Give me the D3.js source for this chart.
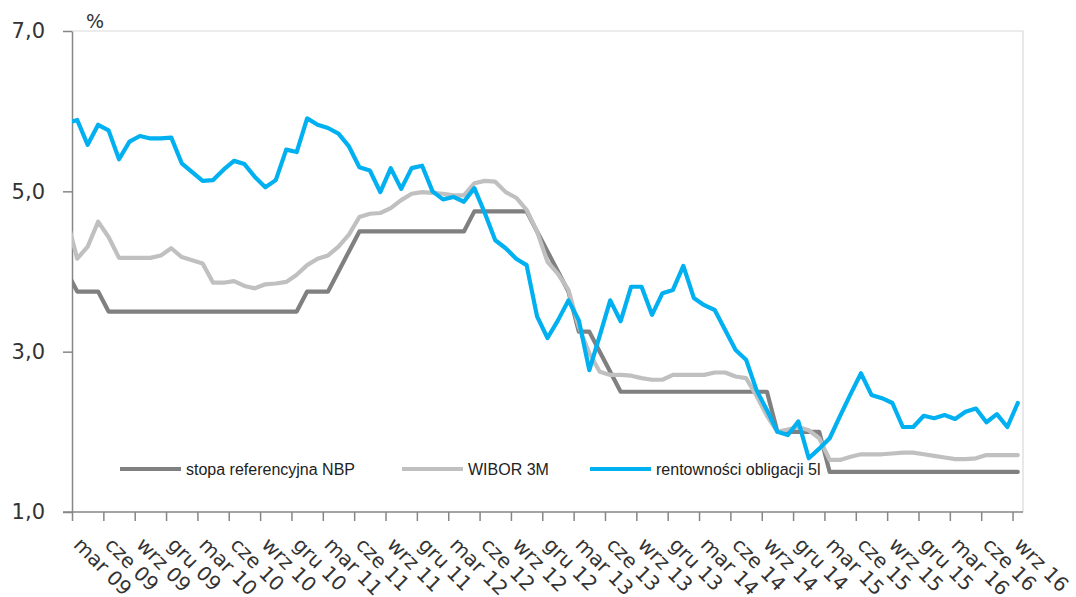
<!DOCTYPE html>
<html><head><meta charset="utf-8">
<script src="https://cdn.jsdelivr.net/npm/d3@7"></script>
<style>body{margin:0;background:#fff} svg{display:block}</style>
</head><body><svg id="c" width="1076" height="597"></svg>
<script>
const months = [
 "lut 09","mar 09","kwi 09","maj 09","cze 09","lip 09","sie 09","wrz 09","paź 09","lis 09","gru 09",
 "sty 10","lut 10","mar 10","kwi 10","maj 10","cze 10","lip 10","sie 10","wrz 10","paź 10","lis 10","gru 10",
 "sty 11","lut 11","mar 11","kwi 11","maj 11","cze 11","lip 11","sie 11","wrz 11","paź 11","lis 11","gru 11",
 "sty 12","lut 12","mar 12","kwi 12","maj 12","cze 12","lip 12","sie 12","wrz 12","paź 12","lis 12","gru 12",
 "sty 13","lut 13","mar 13","kwi 13","maj 13","cze 13","lip 13","sie 13","wrz 13","paź 13","lis 13","gru 13",
 "sty 14","lut 14","mar 14","kwi 14","maj 14","cze 14","lip 14","sie 14","wrz 14","paź 14","lis 14","gru 14",
 "sty 15","lut 15","mar 15","kwi 15","maj 15","cze 15","lip 15","sie 15","wrz 15","paź 15","lis 15","gru 15",
 "sty 16","lut 16","mar 16","kwi 16","maj 16","cze 16","lip 16","sie 16","wrz 16"];

const tickLabels = ["mar 09","cze 09","wrz 09","gru 09","mar 10","cze 10","wrz 10","gru 10",
 "mar 11","cze 11","wrz 11","gru 11","mar 12","cze 12","wrz 12","gru 12",
 "mar 13","cze 13","wrz 13","gru 13","mar 14","cze 14","wrz 14","gru 14",
 "mar 15","cze 15","wrz 15","gru 15","mar 16","cze 16","wrz 16"];

const nbp = [
 4.0, 3.75,3.75,3.75, 3.5,3.5,3.5,3.5,3.5,3.5,3.5,
 3.5,3.5,3.5,3.5,3.5,3.5,3.5,3.5,3.5,3.5,3.5,3.5,
 3.75,3.75,3.75,4.0,4.25,4.5,4.5,4.5,4.5,4.5,4.5,4.5,
 4.5,4.5,4.5,4.5,4.75,4.75,4.75,4.75,4.75,4.75,4.5,4.25,
 4.0,3.75,3.25,3.25,3.0,2.75,2.5,2.5,2.5,2.5,2.5,2.5,
 2.5,2.5,2.5,2.5,2.5,2.5,2.5,2.5,2.5,2.0,2.0,2.0,
 2.0,2.0,1.5,1.5,1.5,1.5,1.5,1.5,1.5,1.5,1.5,1.5,
 1.5,1.5,1.5,1.5,1.5,1.5,1.5,1.5,1.5];

const wibor = [
 4.66, 4.16,4.31,4.62,4.43,4.17,4.17,4.17,4.17,4.20,4.29,
 4.18,4.14,4.10,3.86,3.86,3.88,3.82,3.79,3.84,3.85,3.87,3.96,
 4.08,4.16,4.20,4.31,4.46,4.68,4.72,4.73,4.79,4.89,4.97,4.99,
 4.98,4.97,4.95,4.95,5.10,5.13,5.12,4.99,4.92,4.77,4.50,4.12,
 3.97,3.77,3.31,2.98,2.75,2.71,2.71,2.70,2.67,2.65,2.65,2.71,
 2.71,2.71,2.71,2.74,2.74,2.69,2.67,2.45,2.20,2.00,2.03,2.06,
 2.02,1.92,1.65,1.65,1.69,1.72,1.72,1.72,1.73,1.74,1.74,1.72,
 1.70,1.68,1.66,1.66,1.67,1.71,1.71,1.71,1.71];

const bonds5y = [
 5.85, 5.89,5.58,5.83,5.76,5.40,5.62,5.69,5.66,5.66,5.67,
 5.35,5.24,5.13,5.14,5.27,5.38,5.34,5.18,5.05,5.14,5.52,5.49,
 5.91,5.83,5.79,5.72,5.56,5.30,5.26,4.99,5.29,5.03,5.29,5.32,
 5.00,4.90,4.93,4.87,5.04,4.73,4.39,4.29,4.16,4.08,3.44,3.17,
 3.39,3.64,3.39,2.77,3.20,3.64,3.38,3.81,3.81,3.46,3.73,3.77,
 4.07,3.67,3.58,3.52,3.27,3.02,2.90,2.52,2.27,2.00,1.96,2.13,
 1.67,1.79,1.92,2.20,2.47,2.73,2.46,2.42,2.36,2.06,2.06,2.20,
 2.17,2.21,2.16,2.25,2.29,2.12,2.22,2.06,2.36];

const seriesNames = ["stopa referencyjna NBP","WIBOR 3M","rentowności obligacji 5l"];
const seriesColors = ["#808080","#c0c0c0","#00b0f0"];
const yTicks = [1,3,5,7];

const svg = d3.select("#c");
const L = 72, R = 1023, T = 31, B = 512;

const x = d3.scaleLinear().domain([0.5, months.length - 0.5]).range([L, R]);
const y = d3.scaleLinear().domain([1, 7]).range([B, T]);

svg.append("defs").append("clipPath").attr("id","plot")
  .append("rect").attr("x",L).attr("y",T-10).attr("width",R-L).attr("height",B-T+20);

// plot border (top/right)
svg.append("path").attr("d",`M${L},${T}H${R}V${B}`).attr("fill","none").attr("stroke","#d9d9d9").attr("stroke-width",1.2);

// y axis
const ya = svg.append("g").attr("transform",`translate(${L},0)`)
  .call(d3.axisLeft(y).tickValues(yTicks).tickSize(9).tickSizeOuter(0).tickPadding(18)
    .tickFormat(d => d.toFixed(1).replace(".", ",")));
ya.select(".domain").attr("stroke","#868686").attr("stroke-width",1.5);
ya.selectAll(".tick line").attr("stroke","#868686").attr("stroke-width",1.5);
ya.selectAll(".tick text").attr("font-family","DejaVu Sans, Verdana, sans-serif").attr("font-size",21).attr("fill","#333");

// x axis
const tickPos = d3.range(0.5, months.length, 3);
const xa = svg.append("g").attr("transform",`translate(0,${B})`)
  .call(d3.axisBottom(x).tickValues(tickPos).tickSize(9).tickSizeOuter(0)
    .tickFormat((d,i) => tickLabels[i]));
xa.select(".domain").attr("stroke","#868686").attr("stroke-width",1.5).attr("d",`M${L-9},0H${R}`);
xa.selectAll(".tick line").attr("stroke","#868686").attr("stroke-width",1.5);
xa.selectAll(".tick text")
  .attr("x",0).attr("y",0).attr("dy",0)
  .attr("transform","translate(0,34) rotate(45)")
  .style("text-anchor","start")
  .attr("font-family","DejaVu Sans, Verdana, sans-serif").attr("font-size",20).attr("fill","#333");

// % label
svg.append("text").attr("x",86).attr("y",28).text("%")
  .attr("font-family","DejaVu Sans, Verdana, sans-serif").attr("font-size",19).attr("fill","#333");

// lines
const line = d3.line().x((d,i) => x(i)).y(d => y(d));
const g = svg.append("g").attr("clip-path","url(#plot)");
[nbp, wibor, bonds5y].forEach((s, k) => {
  g.append("path").datum(s).attr("d", line).attr("fill","none")
    .attr("stroke", seriesColors[k]).attr("stroke-width",4.2)
    .attr("stroke-linejoin","round").attr("stroke-linecap","round");
});

// legend
const legX = [120, 402, 590];
const legY = 469;
const lg = svg.append("g");
seriesNames.forEach((n, k) => {
  lg.append("line").attr("x1",legX[k]).attr("x2",legX[k]+61).attr("y1",legY).attr("y2",legY)
    .attr("stroke",seriesColors[k]).attr("stroke-width",4.2);
  lg.append("text").attr("x",legX[k]+66).attr("y",legY+5.5).text(n)
    .attr("font-family","Liberation Sans, Arial, sans-serif").attr("font-size",16).attr("fill","#222");
});
</script></body></html>
